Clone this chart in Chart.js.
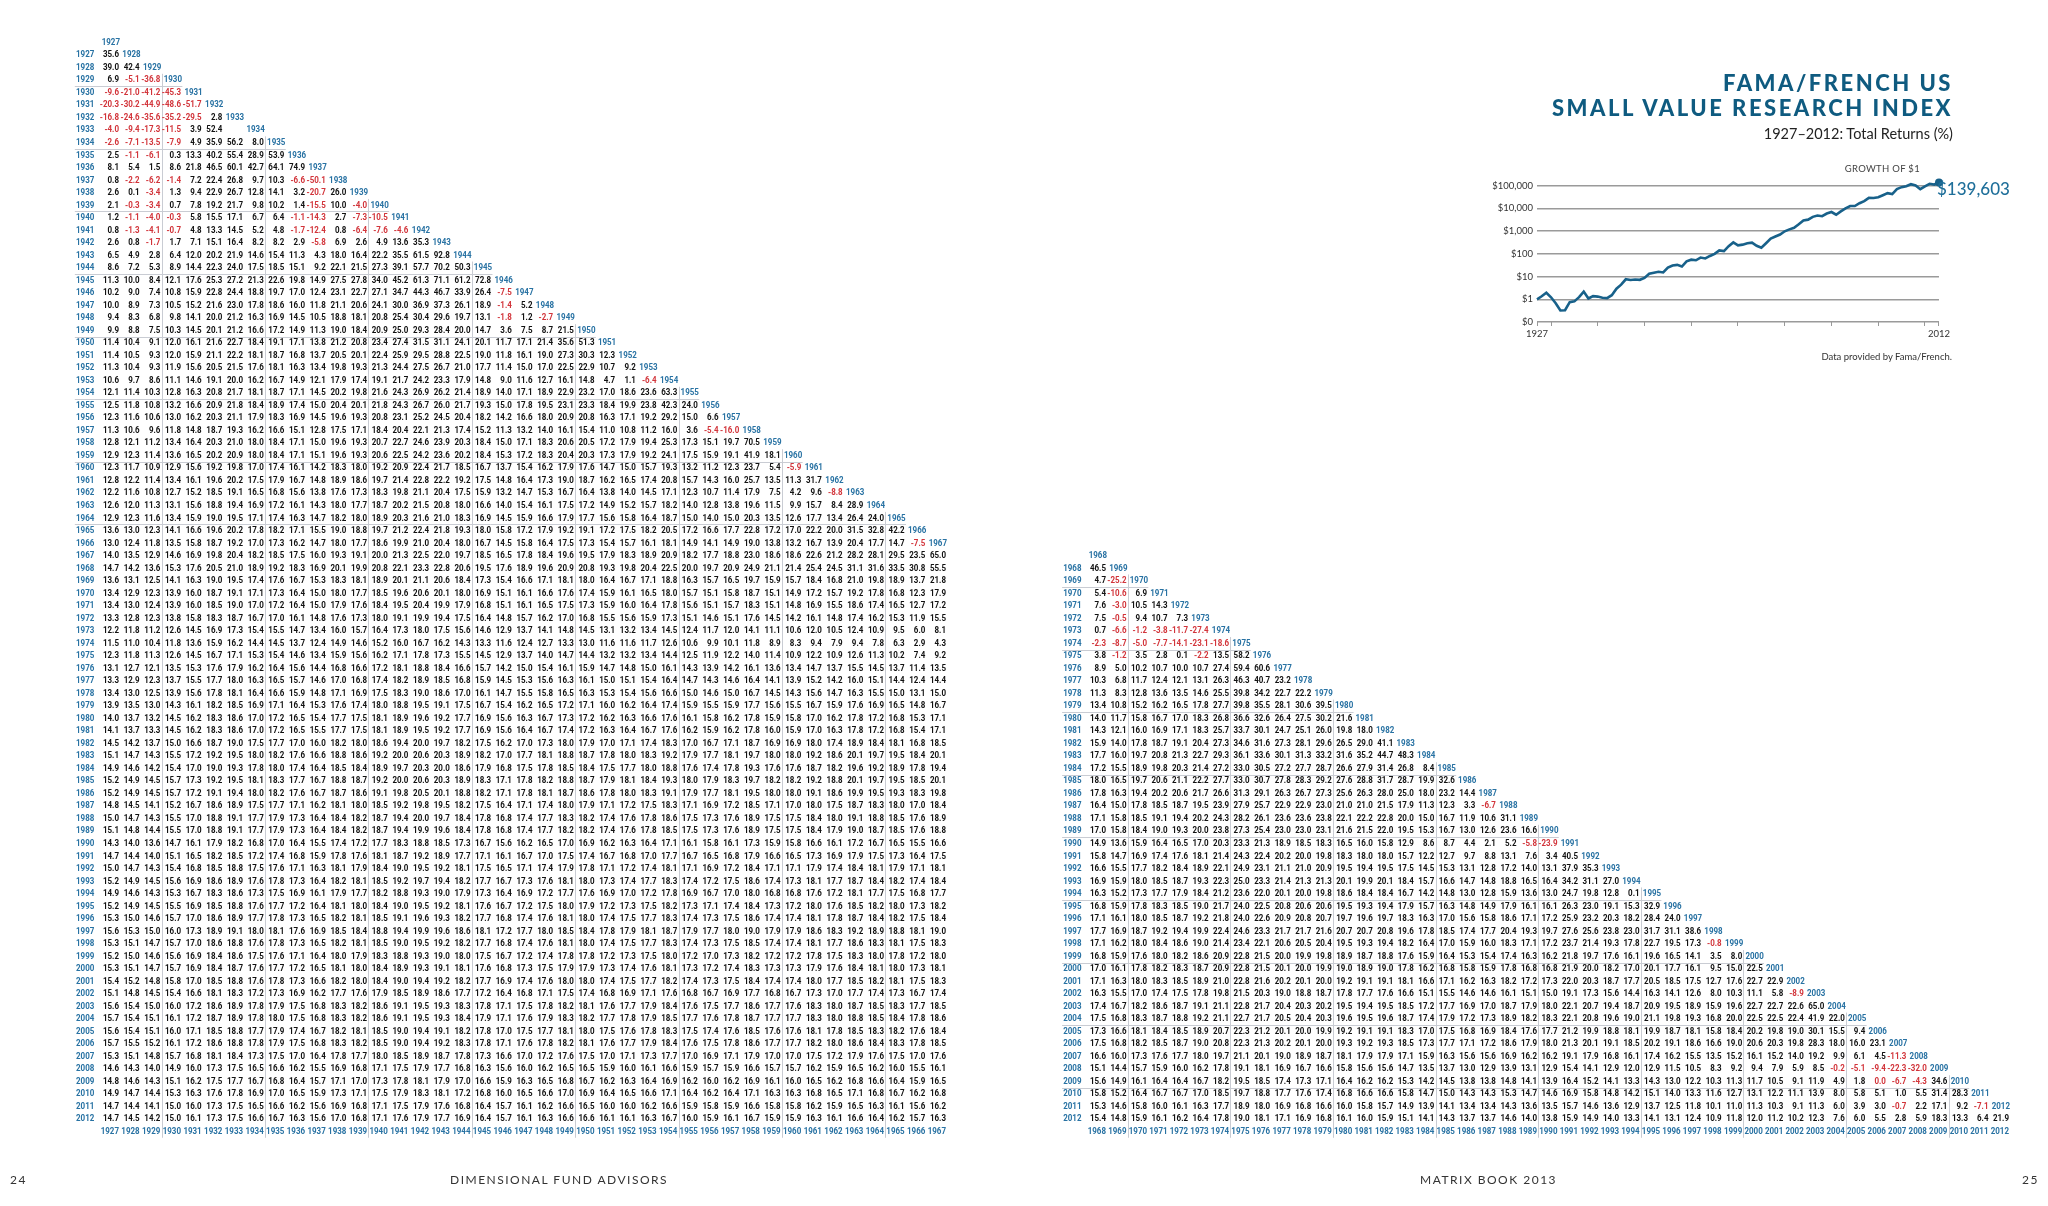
<!DOCTYPE html>
<html><head><meta charset="utf-8">
<script src="https://cdn.jsdelivr.net/npm/chart.js@4"></script>
<style>
html,body{margin:0;padding:0;background:#fff;width:2048px;height:1206px;overflow:hidden;font-family:Lato,'Open Sans',sans-serif}
.abs{position:absolute}
#title{right:95px;top:70px;text-align:right;color:#0f5b80;font-weight:900;font-size:22px;letter-spacing:2.5px;line-height:25px}
#sub{right:95px;top:125px;font-size:14.5px;color:#222}
.foot{top:1172px;font-size:12px;color:#333;letter-spacing:1.5px}
</style></head><body>
<div class="abs" style="left:0;top:0;width:1024px;height:1206px"><canvas id="left"></canvas></div>
<div class="abs" style="left:1024px;top:0;width:1024px;height:1206px"><canvas id="right"></canvas></div>
<div class="abs" id="title">FAMA/FRENCH US<br>SMALL VALUE RESEARCH INDEX</div>
<div class="abs" id="sub">1927–2012: Total Returns (%)</div>
<div class="abs" style="left:1480px;top:176px;width:472px;height:170px"><canvas id="growth"></canvas></div>
<div class="abs" style="right:128px;top:163px;font-size:9.5px;color:#444;letter-spacing:0.3px">GROWTH OF $1</div>
<div class="abs" style="left:1937px;top:178px;font-size:17px;color:#1f6f9a;font-weight:500">$139,603</div>
<div class="abs" style="right:96px;top:351px;font-size:9.5px;color:#333">Data provided by Fama/French.</div>
<div class="abs foot" style="left:10px">24</div>
<div class="abs foot" style="left:450px">DIMENSIONAL FUND ADVISORS</div>
<div class="abs foot" style="left:1420px">MATRIX BOOK 2013</div>
<div class="abs foot" style="left:2022px">25</div>
<script>
// ---- data ----
const years = [];
for (let y = 1927; y <= 2012; y++) years.push(y);
const annualReturns = [
 35.6, 42.4, -36.8, -45.3, -51.7, 2.8, 125.9, 8.0, 53.9, 74.9,
 -50.1, 26.0, -4.0, -10.5, -4.6, 35.3, 92.8, 50.3, 72.8, -7.5,
 5.2, -2.7, 21.5, 51.3, 12.3, 9.2, -6.4, 63.3, 24.0, 6.6,
 -16.0, 70.5, 18.1, -5.9, 31.7, -8.8, 28.9, 24.0, 42.2, -7.5,
 65.0, 46.5, -25.2, 6.9, 14.3, 7.3, -27.4, -18.6, 58.2, 60.6,
 23.2, 22.2, 39.5, 21.6, 18.0, 41.1, 48.3, 8.4, 32.6, 14.4,
 -6.7, 31.1, 16.6, -23.9, 40.5, 35.3, 27.0, 0.1, 32.9, 24.0,
 38.6, -0.8, 8.0, 22.5, 22.9, -8.9, 65.0, 22.0, 9.4, 23.1,
 -11.3, -32.0, 34.6, 28.3, -7.1, 21.9 ];
const leftCols = years.filter(y => y <= 1967);
const rightCols = years.filter(y => y >= 1968);
const yLogTicks = [0.1, 1, 10, 100, 1000, 10000, 100000];
const yTickLabels = ['$0', '$1', '$10', '$100', '$1,000', '$10,000', '$100,000'];

// ---- derived ----
const idx = y => y - 1927;
function annualized(c, r) {
  let p = 1;
  for (let y = c; y <= r; y++) p *= 1 + annualReturns[idx(y)] / 100;
  return (Math.pow(p, 1 / (r - c + 1)) - 1) * 100;
}
const growth = [{x: 1927, y: 1}];
let acc = 1;
years.forEach(y => { acc *= 1 + annualReturns[idx(y)] / 100; growth.push({x: y + 1, y: acc}); });

const BLUE = '#2872a3', RED = '#d2343a', INK = '#111';
const FONT = "bold 9.5px Roboto, 'Liberation Sans', sans-serif";
const SQUEEZE = 0.84;

function matrixChart(id, cols, colPx0, colPx1) {
  const cells = [], labels = [];
  cols.forEach(c => {
    for (let r = c; r <= 2012; r++) {
      const v = annualized(c, r);
      if (Math.abs(v) >= 100) continue;
      cells.push({x: c, y: r, v});
    }
  });
  const first = cols[0], last = cols[cols.length - 1];
  for (let r = first; r <= 2012; r++) labels.push({x: first - 1, y: r, t: String(r), dx: 5});
  cols.forEach(c => { labels.push({x: c, y: c - 1, t: String(c), dx: 10}); labels.push({x: c, y: 2013, t: String(c), dx: 9}); });
  const sx = (colPx1 - colPx0) / (last - first);
  const xmin = first - colPx0 / sx, xmax = xmin + 1024 / sx;
  const sy = (1119 - 55) / (2012 - 1927);
  const ymin = 1927 - 55 / sy, ymax = ymin + 1206 / sy;
  const put = (ctx, s, x, y) => { ctx.save(); ctx.translate(x, y); ctx.scale(SQUEEZE, 1); ctx.fillText(s, 0, 0); ctx.restore(); };
  const textPlugin = {
    id: 'txt' + id,
    afterDatasetsDraw(ch) {
      const ctx = ch.ctx, X = ch.scales.x, Y = ch.scales.y;
      ctx.save();
      ctx.strokeStyle = '#c9ccd3'; ctx.lineWidth = 1;
      cols.filter(c => c % 5 === 0).forEach(c => {
        const xl = Math.round(X.getPixelForValue(c - 0.5)) + 0.5;
        const yt = Math.round(Y.getPixelForValue(c - 0.5)) + 0.5;
        ctx.beginPath();
        ctx.moveTo(xl, Y.getPixelForValue(c - 1.5)); ctx.lineTo(xl, Y.getPixelForValue(2013.5));
        ctx.moveTo(X.getPixelForValue(first - 1.7), yt); ctx.lineTo(X.getPixelForValue(c + 0.5), yt);
        ctx.stroke();
      });
      ctx.font = FONT; ctx.textAlign = 'right'; ctx.textBaseline = 'middle';
      cells.forEach(p => {
        let s = p.v.toFixed(1); if (s === '-0.0') s = '0.0';
        ctx.fillStyle = p.v < 0 ? RED : INK;
        put(ctx, s, X.getPixelForValue(p.x) + 9, Y.getPixelForValue(p.y));
      });
      ctx.fillStyle = BLUE;
      labels.forEach(p => put(ctx, p.t, X.getPixelForValue(p.x) + p.dx, Y.getPixelForValue(p.y)));
      ctx.restore();
    }
  };
  new Chart(document.getElementById(id), {
    type: 'scatter',
    data: {datasets: [{data: cells, pointRadius: 0}]},
    options: {
      responsive: true, maintainAspectRatio: false, animation: false,
      layout: {padding: 0},
      plugins: {legend: {display: false}, tooltip: {enabled: false}},
      scales: {
        x: {type: 'linear', display: false, min: xmin, max: xmax},
        y: {type: 'linear', display: false, reverse: true, min: ymin, max: ymax}
      }
    },
    plugins: [textPlugin]
  });
}
matrixChart('left', leftCols, 110, 937);
matrixChart('right', rightCols, 73, 976);

new Chart(document.getElementById('growth'), {
  type: 'line',
  data: {datasets: [{data: growth, borderColor: '#18618a', borderWidth: 2.6, pointRadius: ctx => ctx.dataIndex === growth.length - 1 ? 4 : 0,
    pointBackgroundColor: '#18618a', pointBorderWidth: 0, tension: 0, clip: false}]},
  options: {
    responsive: true, maintainAspectRatio: false, animation: false,
    layout: {padding: {top: 6, right: 0, left: 0, bottom: 0}},
    plugins: {legend: {display: false}, tooltip: {enabled: false}},
    scales: {
      x: {type: 'linear', min: 1927, max: 2013,
        afterBuildTicks: s => { s.ticks = [1927,1930,1940,1950,1960,1970,1980,1990,2000,2010,2013].map(v => ({value: v})); },
        afterFit: s => { s.height = 24; },
        grid: {drawOnChartArea: false, color: '#999', tickLength: 4, drawTicks: true},
        border: {display: false},
        ticks: {autoSkip: false, maxRotation: 0, color: '#333', font: {size: 9.5, family: 'Lato'}, padding: 2,
          callback: v => v === 1927 ? '1927' : (v === 2013 ? '2012' : '')}
      },
      y: {type: 'logarithmic', min: 0.1, max: 100000,
        afterBuildTicks: s => { s.ticks = yLogTicks.map(v => ({value: v})); },
        afterFit: s => { s.width = 57; },
        grid: {color: '#9a9a9a', lineWidth: 1.5, drawTicks: false},
        border: {display: false},
        ticks: {color: '#333', font: {size: 9.5, family: 'Lato'}, padding: 4,
          callback: v => { const i = yLogTicks.indexOf(v); return i >= 0 ? yTickLabels[i] : ''; }}
      }
    }
  }
});
</script></body></html>
